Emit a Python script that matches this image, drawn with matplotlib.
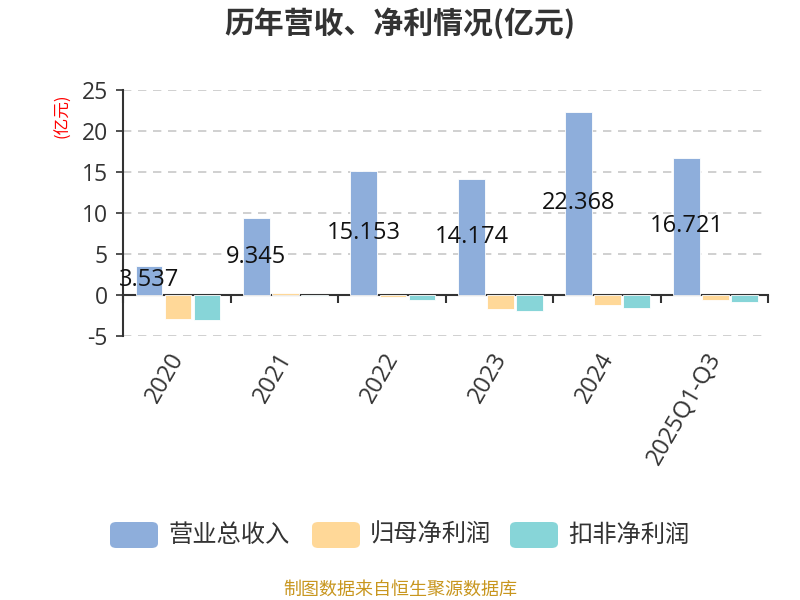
import matplotlib
matplotlib.use("Agg")
import matplotlib.pyplot as plt
from matplotlib.patches import FancyBboxPatch
from matplotlib.transforms import blended_transform_factory

plt.rcParams['font.family'] = ['Noto Sans CJK SC', 'DejaVu Sans']
NUM_FONT = ['Open Sans', 'Noto Sans CJK SC', 'DejaVu Sans']

categories = ["2020", "2021", "2022", "2023", "2024", "2025Q1-Q3"]
revenue = [3.537, 9.345, 15.153, 14.174, 22.368, 16.721]
net_profit = [-2.9, 0.2, -0.25, -1.7, -1.2, -0.65]
deducted_profit = [-3.0, -0.1, -0.55, -1.95, -1.55, -0.8]
series_names = ["营业总收入", "归母净利润", "扣非净利润"]
colors = ["#8eaedb", "#ffd898", "#87d5d8"]
yticks = [-5, 0, 5, 10, 15, 20, 25]

fig = plt.figure(figsize=(8, 6), dpi=100)
ax = fig.add_axes([0.154, 0.44, 0.806, 0.41])

n = len(categories)
offsets = [0.24, 0.51, 0.78]
width = 0.25
for s, (vals, col) in enumerate(zip([revenue, net_profit, deducted_profit], colors)):
    xs = [i + offsets[s] for i in range(n)]
    ax.bar(xs, vals, width=width, color=col, edgecolor='white', linewidth=0.6, zorder=3)

for i, v in enumerate(revenue):
    ax.text(i + offsets[0], v / 2, f"{v:.3f}", ha='center', va='center',
            fontsize=17, color='#111111', zorder=5, family=NUM_FONT)

ax.set_xlim(0, n)
ax.set_ylim(-5, 25)
ax.set_yticks(yticks)
ax.set_yticklabels([str(t) for t in yticks], fontsize=16.5, color='#333333', family=NUM_FONT)
for t in yticks:
    if t != 0:
        ax.axhline(t, color='#c8c8c8', linestyle=(0, (5, 4)), linewidth=1.2, zorder=1)

for sp in ['top', 'right']:
    ax.spines[sp].set_visible(False)
ax.spines['left'].set_color('#333333')
ax.spines['left'].set_linewidth(1.5)
ax.spines['bottom'].set_position(('data', 0))
ax.spines['bottom'].set_color('#333333')
ax.spines['bottom'].set_linewidth(1.5)
ax.tick_params(axis='y', length=5, width=1.2, color='#333333', pad=6)
ax.set_xticks(range(n + 1))
ax.set_xticklabels([])
ax.tick_params(axis='x', direction='out', length=6, width=1.5, color='#333333')

trans = blended_transform_factory(ax.transData, ax.transAxes)
for i, c in enumerate(categories):
    ax.text(i + 0.42, -0.05, c, transform=trans, rotation=60, ha='right', va='top',
            rotation_mode='anchor', fontsize=17, color='#333333', family=NUM_FONT)

fig.text(0.078, 0.807, "(亿元)", rotation=90, color='red', fontsize=12, ha='center', va='center')

fig.text(0.5, 0.962, "历年营收、净利情况(亿元)", ha='center', va='center',
         fontsize=21.5, fontweight='bold', color='#333333')

# legend
px = 1 / 800
py = 1 / 600
items = [(110, 168), (312, 370), (510, 568)]
for (bx, tx), name, col in zip(items, series_names, colors):
    p = FancyBboxPatch((bx * px, 1 - 548 * py), 48 * px, 26 * py,
                       boxstyle="round,pad=0,rounding_size=0.008",
                       transform=fig.transFigure, facecolor=col, edgecolor='none')
    fig.patches.append(p)
    fig.text(tx * px, 1 - 535 * py, name, ha='left', va='center',
             fontsize=17.5, color='#333333')

fig.text(0.5, 1 - 590 * py, "制图数据来自恒生聚源数据库", ha='center', va='center',
         fontsize=13, color='#c8961e')

fig.savefig("out.png", dpi=100)
